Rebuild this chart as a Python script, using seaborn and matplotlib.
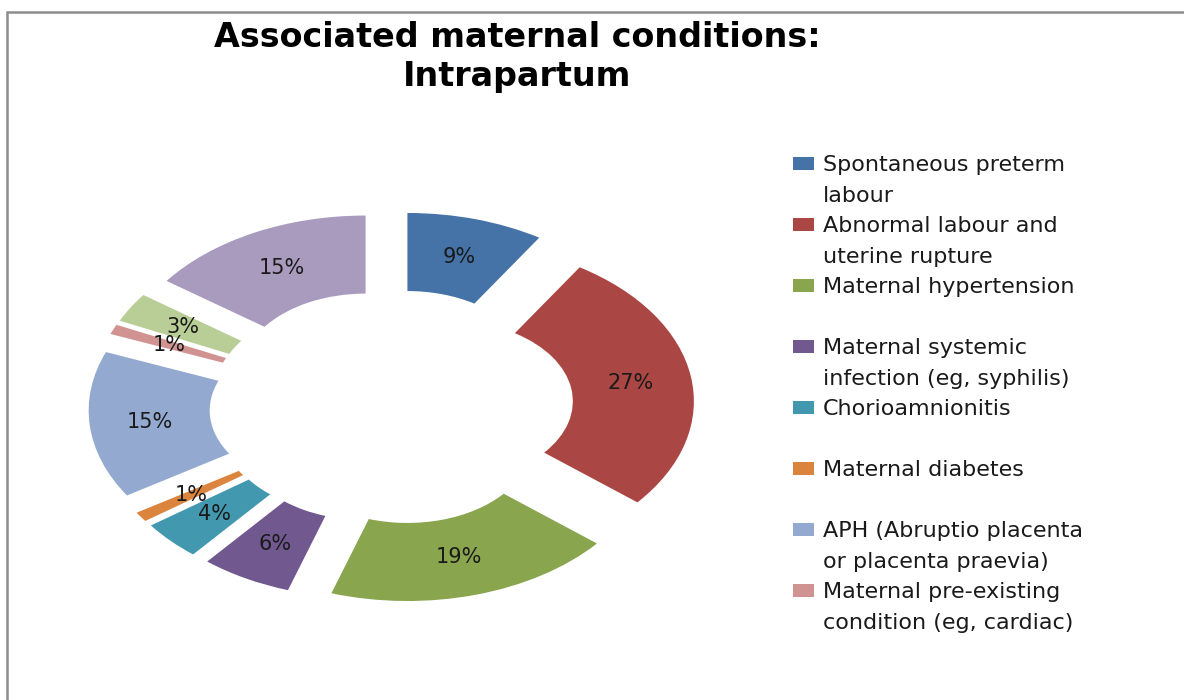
import matplotlib.pyplot as plt
import matplotlib.patches as mpatches
import seaborn as sns

sns.set_theme(style="white")
plt.rcParams['font.family'] = ['DejaVu Sans']

# share of each condition (%), clockwise from 12 o'clock
shares = [9, 27, 19, 6, 4, 1, 15, 1, 3, 15]
slice_colors = ['#4572A7', '#AA4643', '#89A54E', '#71588F', '#4198AF',
                '#DB843D', '#93A9CF', '#D19392', '#B9CD96', '#A99BBD']
# only the first eight series names are shown in the legend
legend_lines = [
    ('Spontaneous preterm', 'labour'),
    ('Abnormal labour and', 'uterine rupture'),
    ('Maternal hypertension', ''),
    ('Maternal systemic', 'infection (eg, syphilis)'),
    ('Chorioamnionitis', ''),
    ('Maternal diabetes', ''),
    ('APH (Abruptio placenta', 'or placenta praevia)'),
    ('Maternal pre-existing', 'condition (eg, cardiac)'),
]
title = 'Associated maternal conditions:\nIntrapartum'

W, H = 1184, 700
fig = plt.figure(figsize=(W / 100, H / 100), dpi=100)

# outer frame (runs off the right and bottom edge like the screenshot)
fig.patches.append(mpatches.Rectangle((7 / W, -0.1), 1.2, (H - 12) / H + 0.1,
                                      transform=fig.transFigure, fill=False,
                                      edgecolor='#8c8c8c', linewidth=1.8))

# donut drawn in a stretched axes so it becomes an ellipse
ax = fig.add_axes([22.5 / W, 55 / H, 738 / W, 476 / H])
wedges, texts, autotexts = ax.pie(
    shares, colors=slice_colors, startangle=90, counterclock=False,
    radius=1, explode=[0.232] * len(shares),
    wedgeprops=dict(width=0.492, linewidth=0),
    autopct=lambda p: f'{p:.0f}%', pctdistance=0.754,
    textprops=dict(fontsize=15, color='#1a1a1a'))
ax.set_aspect('auto')
ax.set_xlim(-1.5, 1.5)
ax.set_ylim(-1.5, 1.5)
ax.axis('off')

fig.text(517 / W, 1 - 57 / H, title, ha='center', va='center',
         fontsize=24, fontweight='bold', linespacing=1.22, color='black')

# legend: two text rows per entry, swatch on the first row
handles, labels = [], []
for color, (line1, line2) in zip(slice_colors, legend_lines):
    handles.append(mpatches.Patch(facecolor=color, edgecolor='none'))
    labels.append(line1)
    handles.append(mpatches.Patch(facecolor='none', edgecolor='none'))
    labels.append(line2)
fig.legend(handles, labels, loc='upper left', bbox_to_anchor=(793 / W, 1 - 155 / H),
           frameon=False, fontsize=16, handlelength=0.95, handleheight=0.54,
           handletextpad=0.4, labelspacing=0.474, borderpad=0, borderaxespad=0,
           labelcolor='#1a1a1a')

fig.savefig('out.png', dpi=100, facecolor='white')
